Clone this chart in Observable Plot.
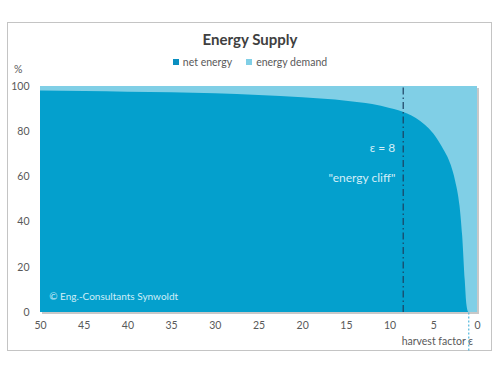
<!DOCTYPE html>
<html>
<head>
<meta charset="utf-8">
<script src="https://cdn.jsdelivr.net/npm/d3@7"></script>
<script src="https://cdn.jsdelivr.net/npm/@observablehq/plot@0.6"></script>
<style>
  html, body { margin: 0; padding: 0; background: #fff; }
  #wrap { position: relative; width: 500px; height: 375px; font-family: Lato, "Open Sans", sans-serif; color: #595959; }
  #wrap svg { position: absolute; left: 0; top: 0; }
  .box { position: absolute; left: 7px; top: 22px; width: 485px; height: 329px; border: 1px solid #c4c4c4; box-sizing: border-box; }
  .title { position: absolute; left: 0; width: 500px; top: 30px; text-align: center; font-weight: bold; font-size: 15px; color: #404040; }
  .legend { position: absolute; left: 0; width: 500px; top: 56px; text-align: center; font-size: 10.5px; }
  .legend span.sw { display: inline-block; width: 6px; height: 6px; margin-right: 4px; vertical-align: 1px; }
  .legend span.item { margin: 0 7px; }
  .pct { position: absolute; left: 14px; top: 63px; font-size: 10.5px; }
  .xlab { position: absolute; right: 27px; top: 335px; font-size: 10.5px; }
</style>
</head>
<body>
<div id="wrap">
  <div class="box"></div>
  <div class="title">Energy Supply</div>
  <div class="legend" id="legend"></div>
  <div class="pct">%</div>
  <div class="xlab">harvest factor ε</div>
</div>
<script>
// harvest factor ε (x) and net energy share in %
const eps = [50, 45, 40, 35, 30, 25, 20, 15, 12, 10, 9, 8, 7, 6, 5, 4, 3, 2.5, 2, 1.7, 1.4, 1.2, 1];
const netEnergy = [98, 97.8, 97.5, 97.2, 96.8, 96, 95, 93.5, 92, 90.3, 89.3, 87.8, 85.8, 83, 79, 73, 65, 58, 47, 34, 14, 3, 0];
// energy demand fills up to 100 % over the full axis
const demandEps = [0, 50];
const demandTop = [100, 100];
const xTicks = [50, 45, 40, 35, 30, 25, 20, 15, 10, 5, 0];
const yTicks = [0, 20, 40, 60, 80, 100];
const seriesNames = ["net energy", "energy demand"];
const cliffEps = 8.5;       // dashed marker ("ε = 8")
const unityEps = 1;         // dotted marker at ε = 1
const annotations = [
  {x: 9.4, y: 72.5, text: "ε = 8"},
  {x: 9.4, y: 59.3, text: "\"energy cliff\""}
];
const credit = "© Eng.-Consultants Synwoldt";

const darkBlue = "#04a0cd";
const lightBlue = "#80cfe6";

const net = eps.map((e, i) => ({eps: e, v: netEnergy[i]}));
const demand = demandEps.map((e, i) => ({eps: e, v: demandTop[i]}));

const chart = Plot.plot({
  width: 500,
  height: 375,
  marginLeft: 40,
  marginRight: 23,
  marginTop: 86,
  marginBottom: 63,
  style: {fontFamily: "Lato, 'Open Sans', sans-serif", fontSize: "10.5px", color: "#595959", background: "transparent", overflow: "visible"},
  x: {domain: [50, 0], ticks: xTicks, label: null},
  y: {domain: [0, 100], ticks: yTicks, label: null},
  marks: [
    Plot.rect([{}], {x1: 50, x2: 0, y1: 0, y2: 100, fill: "#9a9a9a", fillOpacity: 0.55, dx: 2, dy: 2}),
    Plot.areaY(demand, {x: "eps", y1: 0, y2: "v", fill: lightBlue}),
    Plot.areaY(net, {x: "eps", y1: 0, y2: "v", fill: darkBlue, curve: "monotone-x"}),
    Plot.ruleX([cliffEps], {y1: 0, y2: 100, stroke: "#1d4060", strokeWidth: 1.2, strokeDasharray: "7 3 1.5 3"}),
    Plot.ruleX([unityEps], {y1: -17, y2: 0, stroke: "#4fb6dc", strokeWidth: 1.2, strokeDasharray: "2 2"}),
    Plot.text(annotations, {x: "x", y: "y", text: "text", textAnchor: "end", fill: "#d3eef8", fontSize: 12}),
    Plot.text([credit], {x: 49, y: 7, text: d => d, textAnchor: "start", fill: "#cfeef8", fontSize: 10}),
    Plot.axisX({ticks: xTicks, tickSize: 0, tickPadding: 9, fill: "#595959", label: null}),
    Plot.axisY({ticks: yTicks, tickSize: 0, tickPadding: 11, fill: "#595959", label: null})
  ]
});
document.getElementById("wrap").appendChild(chart);

const legend = document.getElementById("legend");
[darkBlue, lightBlue].forEach((c, i) => {
  const item = document.createElement("span");
  item.className = "item";
  const sw = document.createElement("span");
  sw.className = "sw";
  sw.style.background = i === 0 ? "#0a8fc0" : lightBlue;
  item.appendChild(sw);
  item.appendChild(document.createTextNode(seriesNames[i]));
  legend.appendChild(item);
});
</script>
</body>
</html>
